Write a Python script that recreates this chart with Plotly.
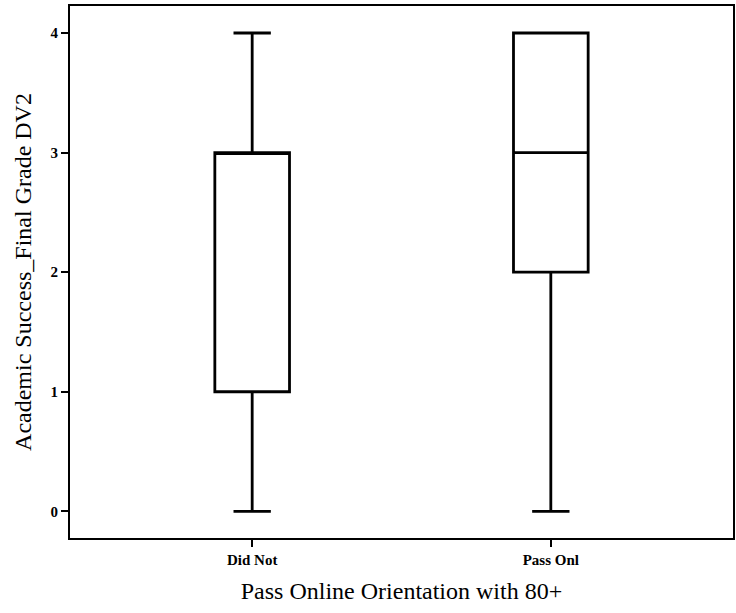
import plotly.graph_objects as go

categories = ["Did Not", "Pass Onl"]
mins = [0, 0]
q1s = [1, 2]
medians = [3, 3]
q3s = [3, 4]
maxs = [4, 4]
y_ticks = [0, 1, 2, 3, 4]

fig = go.Figure()
fig.add_trace(go.Box(
    x=categories, q1=q1s, median=medians, q3=q3s,
    lowerfence=mins, upperfence=maxs,
    fillcolor="white", line=dict(color="black", width=2.8),
    width=0.25, whiskerwidth=0.5, boxpoints=False, hoverinfo="skip",
))

serif = "Liberation Serif"
fig.update_layout(
    width=736, height=613,
    margin=dict(l=70, r=1, t=6, b=75),
    plot_bgcolor="white", paper_bgcolor="white",
    showlegend=False,
    font=dict(family=serif, color="black"),
    xaxis=dict(
        range=[-0.61, 1.61], showgrid=False, zeroline=False,
        showline=True, linecolor="black", linewidth=2, mirror=True,
        ticks="outside", ticklen=7, tickwidth=2, tickcolor="black",
        tickfont=dict(family=serif, size=15, weight="bold"),
        title=dict(text="Pass Online Orientation with 80+", font=dict(family=serif, size=24), standoff=15),
    ),
    yaxis=dict(
        range=[-0.223, 4.226], showgrid=False, zeroline=False,
        tickvals=y_ticks, ticktext=[str(v) for v in y_ticks],
        showline=True, linecolor="black", linewidth=2, mirror=True,
        ticks="outside", ticklen=7, tickwidth=2, tickcolor="black",
        tickfont=dict(family=serif, size=15, weight="bold"),
        title=dict(text="Academic Success_Final Grade DV2", font=dict(family=serif, size=24), standoff=12),
    ),
)

fig.write_html("out.html")
